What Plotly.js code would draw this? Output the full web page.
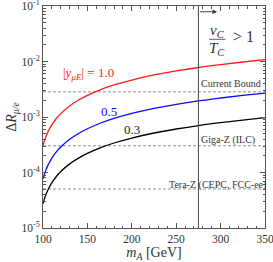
<!DOCTYPE html>
<html>
<head>
<meta charset="utf-8">
<script src="https://cdn.plot.ly/plotly-3.0.1.min.js"></script>
<style>html,body{margin:0;padding:0;background:#fff;}#chart{width:273px;height:262px;}</style>
</head>
<body>
<div id="chart"></div>
<script>
// ---- data ----
const mA = [100, 101, 102, 103, 105, 107, 110, 115, 120, 130, 140, 150, 165, 180, 200, 225, 250, 275, 300, 325, 350];
const dR_y10 = [3.04e-4, 3.46e-4, 3.88e-4, 4.32e-4, 5.16e-4, 6.0e-4, 7.28e-4, 9.4e-4, 1.152e-3, 1.584e-3, 2.02e-3, 2.46e-3, 3.12e-3, 3.78e-3, 4.64e-3, 5.72e-3, 6.76e-3, 7.8e-3, 8.8e-3, 9.8e-3, 1.08e-2];
const dR_y05 = [7.6e-5, 8.65e-5, 9.7e-5, 1.08e-4, 1.29e-4, 1.5e-4, 1.82e-4, 2.35e-4, 2.88e-4, 3.96e-4, 5.05e-4, 6.15e-4, 7.8e-4, 9.45e-4, 1.16e-3, 1.43e-3, 1.69e-3, 1.95e-3, 2.2e-3, 2.45e-3, 2.7e-3];
const dR_y03 = [2.74e-5, 3.11e-5, 3.49e-5, 3.89e-5, 4.64e-5, 5.4e-5, 6.55e-5, 8.46e-5, 1.04e-4, 1.43e-4, 1.82e-4, 2.21e-4, 2.81e-4, 3.4e-4, 4.18e-4, 5.15e-4, 6.08e-4, 7.02e-4, 7.92e-4, 8.82e-4, 9.72e-4];
const boundNames = ["Current Bound", "Giga-Z (ILC)", "Tera-Z (CEPC, FCC-ee)"];
const boundValues = [2.84e-3, 3.03e-4, 5.05e-5];
const mARange = [100, 350];
const mACritical = 275;     // v_C/T_C > 1 boundary
const mAArrowEnd = 296;
const yTickVals = [1e-5, 1e-4, 1e-3, 1e-2, 1e-1];
const yTickText = ["10<sup>-5</sup>", "10<sup>-4</sup>", "10<sup>-3</sup>", "10<sup>-2</sup>", "10<sup>-1</sup>"];
const xTickVals = [100, 150, 200, 250, 300, 350];

const FONT = "Liberation Serif";
const traces = [];
boundValues.forEach((v, i) => {
  traces.push({x: mARange, y: [v, v], mode: 'lines', name: boundNames[i],
    line: {color: '#777', width: 0.8, dash: '3px,2px'}, hoverinfo: 'skip'});
});
traces.push({x: mA, y: dR_y10, mode: 'lines', line: {color: '#ff1a1a', width: 1.3, shape: 'spline'}});
traces.push({x: mA, y: dR_y05, mode: 'lines', line: {color: '#0a0aff', width: 1.3, shape: 'spline'}});
traces.push({x: mA, y: dR_y03, mode: 'lines', line: {color: '#000', width: 1.3, shape: 'spline'}});

const yMinor = [];
for (let e = -5; e < -1; e++) for (let k = 2; k <= 9; k++) yMinor.push(k * Math.pow(10, e));
const xMinor = [];
for (let v = 110; v < 350; v += 10) if (v % 50) xMinor.push(v);

const ann = (x, y, text, color, size, extra) => Object.assign({
  xref: 'paper', yref: 'paper', x: x, y: y, text: text, showarrow: false,
  font: {family: FONT, size: size, color: color}, xanchor: 'center', yanchor: 'middle'
}, extra || {});

const layout = {
  width: 273, height: 262,
  margin: {l: 43, r: 8, t: 6, b: 34},
  showlegend: false,
  paper_bgcolor: '#fff', plot_bgcolor: '#fff',
  font: {family: FONT, size: 11, color: '#333'},
  xaxis: {
    range: mARange, tickmode: 'array', tickvals: xTickVals, ticklabeloverflow: 'allow',
    ticks: 'inside', ticklen: 5, tickcolor: '#555', mirror: 'ticks', showline: true,
    linecolor: '#555', linewidth: 1, showgrid: false, zeroline: false,
    tickfont: {family: FONT, size: 11.5, color: '#333'},
    minor: {tickmode: 'array', tickvals: xMinor, ticks: 'inside', ticklen: 2.5, tickcolor: '#555', showgrid: false},
    title: {text: '<i>m<sub>A</sub></i> [GeV]', font: {family: FONT, size: 14, color: '#333'}, standoff: 3}
  },
  yaxis: {
    type: 'log', range: [-5, -1], tickmode: 'array', tickvals: yTickVals, ticktext: yTickText,
    ticklabeloverflow: 'allow',
    ticks: 'inside', ticklen: 5, tickcolor: '#555', mirror: 'ticks', showline: true,
    linecolor: '#555', linewidth: 1, showgrid: false, zeroline: false,
    tickfont: {family: FONT, size: 11.5, color: '#333'},
    minor: {tickmode: 'array', tickvals: yMinor, ticks: 'inside', ticklen: 2.5, tickcolor: '#555', showgrid: false},
    title: {text: 'Δ<i>R</i><sub><i>μ/e</i></sub>', font: {family: FONT, size: 14, color: '#333'}, standoff: 1}
  },
  shapes: [
    {type: 'line', xref: 'x', yref: 'paper', x0: mACritical, x1: mACritical, y0: 0, y1: 1,
     line: {color: '#444', width: 1}},
    {type: 'line', xref: 'paper', yref: 'paper', x0: 0.748, x1: 0.822, y0: 0.85, y1: 0.85,
     line: {color: '#333', width: 0.8}}
  ],
  annotations: [
    {xref: 'x', yref: 'paper', axref: 'x', ayref: 'paper', x: mAArrowEnd, y: 0.974,
     ax: mACritical, ay: 0.974, text: '', showarrow: true, arrowhead: 2, arrowsize: 1,
     arrowwidth: 0.9, arrowcolor: '#333'},
    ann(0.784, 0.888, '<i>v<sub>C</sub></i>', '#333', 15),
    ann(0.784, 0.807, '<i>T<sub>C</sub></i>', '#333', 15),
    ann(0.905, 0.862, '&gt; 1', '#333', 16),
    ann(0.205, 0.694, '|<i>y<sub>μE</sub></i>| = 1.0', '#ff1a1a', 13),
    ann(0.298, 0.524, '0.5', '#0a0aff', 13),
    ann(0.40, 0.442, '0.3', '#222', 13),
    ann(0.847, 0.652, 'Current Bound', '#333', 10),
    ann(0.834, 0.398, 'Giga-Z (ILC)', '#333', 10),
    ann(0.787, 0.195, 'Tera-Z (CEPC, FCC-ee)', '#333', 10)
  ]
};

Plotly.newPlot('chart', traces, layout, {displayModeBar: false, staticPlot: true});
</script>
</body>
</html>
